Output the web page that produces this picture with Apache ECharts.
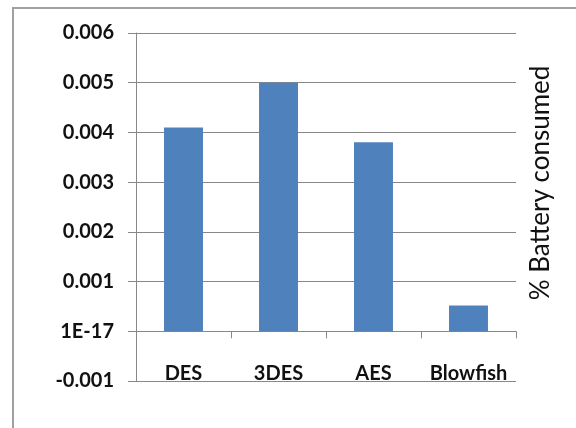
<!DOCTYPE html>
<html>
<head>
<meta charset="utf-8">
<script src="https://cdn.jsdelivr.net/npm/echarts@6.0.0/dist/echarts.min.js"></script>
<style>
  html, body { margin: 0; padding: 0; background: #fff; }
  #chart { width: 576px; height: 428px; }
</style>
</head>
<body>
<div id="chart"></div>
<script>
// 数据
const categories = ['DES', '3DES', 'AES', 'Blowfish'];
const batteryConsumed = [0.0041, 0.005, 0.0038, 0.00052];
const yTickLabels = ['-0.001', '1E-17', '0.001', '0.002', '0.003', '0.004', '0.005', '0.006'];
const yMin = -0.001;
const yStep = 0.001;
const yTitle = '% Battery consumed';

const chart = echarts.init(document.getElementById('chart'));

const option = {
    animation: false,
    textStyle: { fontFamily: 'Lato' },
    grid: { left: 136, right: 60, top: 33, bottom: 47 },
    graphic: [{
        // 外框（左、上）
        type: 'polyline',
        shape: { points: [[13, 428], [13, 8], [576, 8]] },
        style: { stroke: '#a0a0a0', lineWidth: 2, fill: null }
    }, {
        // 右侧标题
        type: 'text',
        x: 541,
        y: 183,
        rotation: Math.PI / 2,
        style: {
            text: yTitle,
            font: '26px Lato',
            fill: '#111',
            align: 'center',
            verticalAlign: 'middle'
        }
    }],
    xAxis: {
        type: 'category',
        data: categories,
        axisLine: { onZero: true, lineStyle: { color: '#888', width: 1 } },
        axisTick: { show: true, length: 7, inside: false, lineStyle: { color: '#888' } },
        axisLabel: { interval: 0, hideOverlap: false, margin: -17, color: '#111', fontSize: 20, fontWeight: 'bold' }
    },
    yAxis: {
        type: 'value',
        min: yMin,
        max: 0.006,
        interval: yStep,
        axisLine: { show: true, lineStyle: { color: '#888' } },
        axisTick: { show: true, length: 8, lineStyle: { color: '#888' } },
        splitLine: { show: true, lineStyle: { color: '#888', width: 1 } },
        axisLabel: {
            margin: 22,
            color: '#111',
            fontSize: 20,
            fontWeight: 'bold',
            formatter: (v) => yTickLabels[Math.round((v - yMin) / yStep)]
        }
    },
    series: [{
        type: 'bar',
        data: batteryConsumed,
        barWidth: '41%',
        itemStyle: { color: '#4F81BD' }
    }]
};

chart.setOption(option);
</script>
</body>
</html>
